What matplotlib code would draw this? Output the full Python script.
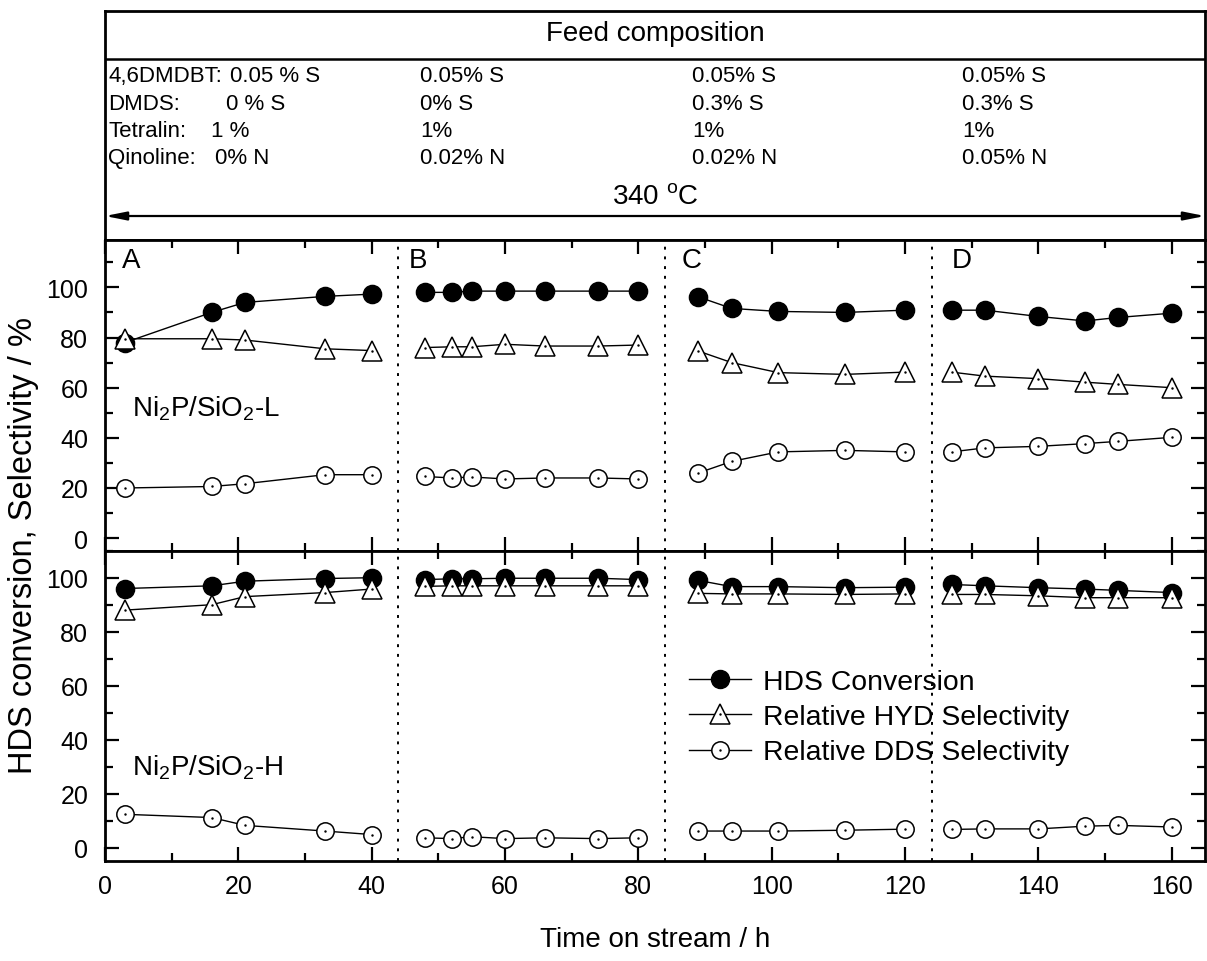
import matplotlib
matplotlib.use("Agg")
import matplotlib.pyplot as plt
from matplotlib.lines import Line2D
from matplotlib.legend_handler import HandlerTuple
from matplotlib.ticker import MultipleLocator

plt.rcParams['font.family'] = ['Liberation Sans', 'DejaVu Sans']
plt.rcParams['mathtext.fontset'] = 'custom'
plt.rcParams['mathtext.rm'] = 'Liberation Sans'
plt.rcParams['mathtext.it'] = 'Liberation Sans:italic'
plt.rcParams['mathtext.default'] = 'regular'

# time on stream (h) for the four feed periods A-D
t_A = [3, 16, 21, 33, 40]
t_B = [48, 52, 55, 60, 66, 74, 80]
t_C = [89, 94, 101, 111, 120]
t_D = [127, 132, 140, 147, 152, 160]
times = [t_A, t_B, t_C, t_D]

# Ni2P/SiO2-L
hds_L = [[78, 90, 94, 96.4, 97.3],
         [98, 98, 98.5, 98.5, 98.5, 98.5, 98.5],
         [96.2, 91.6, 90.4, 90, 90.9],
         [90.9, 90.9, 88.4, 86.6, 88, 89.7]]
hyd_L = [[79.5, 79.5, 79, 75.5, 74.8],
         [76, 76.3, 76.3, 77.3, 76.6, 76.6, 77],
         [74.6, 70, 66, 65.3, 66.2],
         [66.2, 64.6, 63.6, 62.2, 61.3, 60]]
dds_L = [[20, 20.6, 21.7, 25.3, 25.3],
         [24.6, 24, 24.4, 23.6, 24, 24, 23.6],
         [26, 30.6, 34.4, 35, 34.4],
         [34.4, 36, 36.6, 37.7, 38.6, 40.2]]

# Ni2P/SiO2-H
hds_H = [[96, 97, 98.7, 99.7, 100],
         [99.3, 99.6, 99.6, 99.8, 99.8, 99.8, 99.3],
         [99, 96.7, 96.7, 96.3, 96.5],
         [97.5, 97, 96.3, 95.8, 95.3, 94.5]]
hyd_H = [[88, 90, 93, 94.5, 95.8],
         [96.8, 97, 97, 97, 97, 97, 97],
         [94.2, 94, 94, 93.8, 94],
         [93.8, 93.8, 93.3, 92.6, 92.6, 92.6]]
dds_H = [[12.4, 11.2, 8.3, 6.2, 4.9],
         [3.7, 3.4, 4.1, 3.4, 3.7, 3.4, 3.7],
         [6.2, 6.2, 6.2, 6.5, 6.9],
         [6.8, 7, 7, 8, 8.3, 7.7]]

period_bounds = [44, 84, 124]
period_names = ['A', 'B', 'C', 'D']
period_label_x = [4, 47, 88, 128.5]

feed_rows = ['4,6DMDBT:', 'DMDS:', 'Tetralin:', 'Qinoline:']
feed_values = [['0.05 % S', '0.05% S', '0.05% S', '0.05% S'],
               ['0 % S', '0% S', '0.3% S', '0.3% S'],
               ['1 %', '1%', '1%', '1%'],
               ['0% N', '0.02% N', '0.02% N', '0.05% N']]

W, H = 1207, 962
fig = plt.figure(figsize=(W / 100, H / 100), dpi=100)

x0, w = 105 / W, 1100 / W
ax_box = fig.add_axes([x0, (H - 240.7) / H, w, 228.7 / H])
ax1 = fig.add_axes([x0, (H - 551.7) / H, w, 311 / H])
ax2 = fig.add_axes([x0, (H - 862.3) / H, w, 310.6 / H])

# feed composition table
ax_box.set_xlim(0, 1)
ax_box.set_ylim(0, 1)
ax_box.set_xticks([])
ax_box.set_yticks([])
for s in ax_box.spines.values():
    s.set_linewidth(2)
ax_box.axhline(0.79, color='k', lw=1.8)
ax_box.text(0.5, 0.905, 'Feed composition', ha='center', va='center', fontsize=20)
row_y = [0.716, 0.594, 0.476, 0.358]
col_x = [[0.1135, 0.110, 0.096, 0.100], 0.2864, 0.5336, 0.779]
for i, (name, vals) in enumerate(zip(feed_rows, feed_values)):
    ax_box.text(0.003, row_y[i], name, ha='left', va='center', fontsize=16)
    for j, v in enumerate(vals):
        x = col_x[0][i] if j == 0 else col_x[j]
        ax_box.text(x, row_y[i], v, ha='left', va='center', fontsize=16)
ax_box.text(0.5, 0.19, r'340 $^{o}$C', ha='center', va='center', fontsize=20)
ax_box.annotate('', xy=(1, 0.1036), xytext=(0, 0.1036),
                arrowprops=dict(arrowstyle='<|-|>,head_length=0.9,head_width=0.18',
                                color='k', lw=1.6, shrinkA=0, shrinkB=0,
                                mutation_scale=14))


def draw_panel(ax, hds, hyd, dds):
    for t, a, b, c in zip(times, hds, hyd, dds):
        ax.plot(t, a, '-', color='k', lw=1.0, marker='o', ms=13,
                mfc='k', mec='k', mew=1.1, zorder=3)
        ax.plot(t, b, '-', color='k', lw=1.0, marker='^', ms=15,
                mfc='white', mec='k', mew=1.1, zorder=4)
        ax.plot(t, b, ls='none', marker='.', ms=1.5, color='k', zorder=5)
        ax.plot(t, c, '-', color='k', lw=1.0, marker='o', ms=12.5,
                mfc='white', mec='k', mew=1.1, zorder=4)
        ax.plot(t, c, ls='none', marker='.', ms=1.5, color='k', zorder=5)
    for xb in period_bounds:
        ax.axvline(xb, color='k', lw=1.4, ls=(0, (1.5, 3.5)), zorder=2)
    ax.set_xlim(0, 165)
    ax.xaxis.set_major_locator(MultipleLocator(20))
    ax.xaxis.set_minor_locator(MultipleLocator(10))
    ax.yaxis.set_major_locator(MultipleLocator(20))
    ax.yaxis.set_minor_locator(MultipleLocator(10))
    ax.tick_params(which='both', direction='in', top=True, right=True, width=1.6)
    ax.tick_params(which='major', length=10, labelsize=18, pad=12)
    ax.tick_params(which='minor', length=5.5)
    for s in ax.spines.values():
        s.set_linewidth(2)


draw_panel(ax1, hds_L, hyd_L, dds_L)
draw_panel(ax2, hds_H, hyd_H, dds_H)

ax1.set_ylim(-5, 119)
ax2.set_ylim(-5, 110)
ax1.set_yticks([0, 20, 40, 60, 80, 100])
ax2.set_yticks([0, 20, 40, 60, 80, 100])
ax1.tick_params(labelbottom=False)
ax2.tick_params(axis='x', pad=9)

for name, xl in zip(period_names, period_label_x):
    ax1.text(xl, 111, name, ha='center', va='center', fontsize=20)

ax1.text(4, 52, r'Ni$_2$P/SiO$_2$-L', ha='left', va='center', fontsize=20)
ax2.text(4, 30, r'Ni$_2$P/SiO$_2$-H', ha='left', va='center', fontsize=20)

# legend with centre dots in the open symbols
h1 = Line2D([], [], color='k', lw=1.0, marker='o', ms=13, mfc='k', mec='k')
h2 = (Line2D([], [], color='k', lw=1.0, marker='^', ms=15, mfc='white', mec='k', mew=1.1),
      Line2D([], [], ls='none', marker='.', ms=1.5, color='k'))
h3 = (Line2D([], [], color='k', lw=1.0, marker='o', ms=12.5, mfc='white', mec='k', mew=1.1),
      Line2D([], [], ls='none', marker='.', ms=1.5, color='k'))
ax2.legend([h1, h2, h3],
           ['HDS Conversion', 'Relative HYD Selectivity', 'Relative DDS Selectivity'],
           handler_map={tuple: HandlerTuple(ndivide=1, pad=0)},
           loc='upper left', bbox_to_anchor=(0.531, 0.62), borderaxespad=0,
           borderpad=0, frameon=False, fontsize=20.4, handlelength=2.2,
           handletextpad=0.4, labelspacing=0.33)

ax2.set_xlabel('Time on stream / h', fontsize=20, labelpad=20)
fig.text(24 / W, 1 - 545 / H, 'HDS conversion, Selectivity / %', rotation=90,
         ha='center', va='center', fontsize=23.5)

fig.savefig('out.png', dpi=100)
